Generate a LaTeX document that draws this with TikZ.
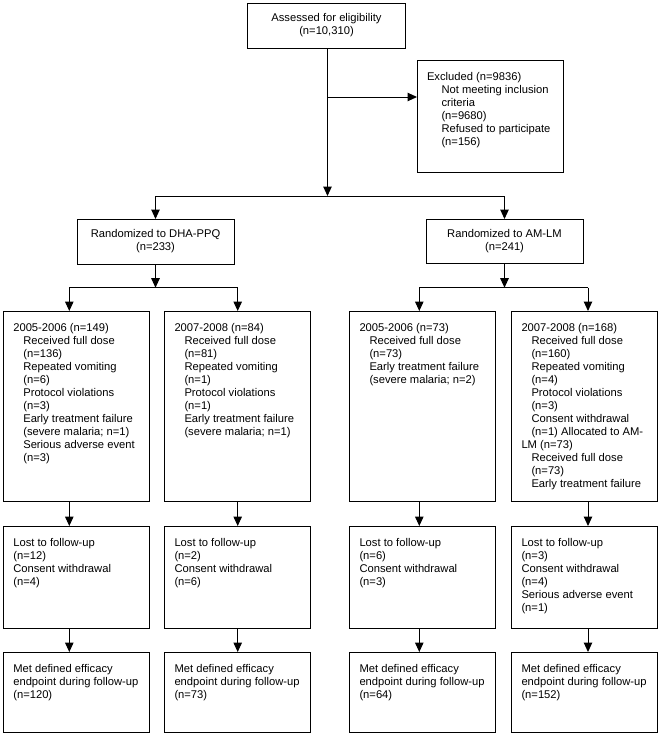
\documentclass[tikz,border=0pt]{standalone}
\usepackage{fontspec}
\setmainfont{Liberation Sans}
\usetikzlibrary{arrows.meta,calc}
\newcommand\ind{\hspace*{10pt}}
\newcommand\indx{\hspace*{14.5pt}}
\newcommand\btext[1]{\parbox[t]{200pt}{\raggedright #1}}
\begin{document}
\begin{tikzpicture}[x=1pt,y=-1pt,
  every node/.style={font=\fontsize{11.2}{13}\selectfont},
  box/.style={draw,line width=1pt,inner sep=0pt,outer sep=0pt,align=center},
  colbox/.style={box,minimum width=146pt},
  txt/.style={inner sep=0pt,outer sep=0pt,anchor=base west},
  arr/.style={line width=1pt,-{Triangle[length=9.5pt,width=8.5pt]}},
  ln/.style={line width=1pt}]
\useasboundingbox (0,0) rectangle (661,736);
% top level
\node[box,minimum width=158pt,minimum height=45pt] (top) at (326.5,25.5) {Assessed for eligibility\\(n=10,310)};
\node[box,minimum width=146pt,minimum height=112pt] (excl) at (490,116) {};
\node[txt] (texcl) at ([xshift=10pt,yshift=-20.5pt]excl.north west) {\btext{Excluded (n=9836)\\\indx Not meeting inclusion\\\indx criteria\\\indx (n=9680)\\\indx Refused to participate\\\indx (n=156)}};
\node[box,minimum width=157pt,minimum height=45pt] (dha) at (155.5,241.5) {Randomized to DHA-PPQ\\(n=233)};
\node[box,minimum width=157pt,minimum height=44pt] (aml) at (504.5,241) {Randomized to AM-LM\\(n=241)};
% column boxes
\node[colbox,minimum height=190pt] (A) at (76.3,406) {};
\node[colbox,minimum height=190pt] (B) at (237.5,406) {};
\node[colbox,minimum height=190pt] (C) at (422.5,406) {};
\node[colbox,minimum height=190pt] (D) at (584.5,406) {};
\node[txt] (tA) at ([xshift=10pt,yshift=-20.5pt]A.north west) {\btext{2005-2006 (n=149)\\\ind Received full dose\\\ind (n=136)\\\ind Repeated vomiting\\\ind (n=6)\\\ind Protocol violations\\\ind (n=3)\\\ind Early treatment failure\\\ind (severe malaria; n=1)\\\ind Serious adverse event\\\ind (n=3)}};
\node[txt] (tB) at ([xshift=10pt,yshift=-20.5pt]B.north west) {\btext{2007-2008 (n=84)\\\ind Received full dose\\\ind (n=81)\\\ind Repeated vomiting\\\ind (n=1)\\\ind Protocol violations\\\ind (n=1)\\\ind Early treatment failure\\\ind (severe malaria; n=1)}};
\node[txt] (tC) at ([xshift=10pt,yshift=-20.5pt]C.north west) {\btext{2005-2006 (n=73)\\\ind Received full dose\\\ind (n=73)\\\ind Early treatment failure\\\ind (severe malaria; n=2)}};
\node[txt] (tD) at ([xshift=10pt,yshift=-20.5pt]D.north west) {\btext{2007-2008 (n=168)\\\ind Received full dose\\\ind (n=160)\\\ind Repeated vomiting\\\ind (n=4)\\\ind Protocol violations\\\ind (n=3)\\\ind Consent withdrawal\\\ind (n=1) Allocated to AM-\\LM (n=73)\\\ind Received full dose\\\ind (n=73)\\\ind Early treatment failure}};
% lost boxes
\node[colbox,minimum height=102pt] (lA) at (76.3,577) {};
\node[colbox,minimum height=102pt] (lB) at (237.5,577) {};
\node[colbox,minimum height=102pt] (lC) at (422.5,577) {};
\node[colbox,minimum height=102pt] (lD) at (584.5,577) {};
\node[txt] (tlA) at ([xshift=10pt,yshift=-20.5pt]lA.north west) {\btext{Lost to follow-up\\(n=12)\\Consent withdrawal\\(n=4)}};
\node[txt] (tlB) at ([xshift=10pt,yshift=-20.5pt]lB.north west) {\btext{Lost to follow-up\\(n=2)\\Consent withdrawal\\(n=6)}};
\node[txt] (tlC) at ([xshift=10pt,yshift=-20.5pt]lC.north west) {\btext{Lost to follow-up\\(n=6)\\Consent withdrawal\\(n=3)}};
\node[txt] (tlD) at ([xshift=10pt,yshift=-20.5pt]lD.north west) {\btext{Lost to follow-up\\(n=3)\\Consent withdrawal\\(n=4)\\Serious adverse event\\(n=1)}};
% met boxes
\node[colbox,minimum height=80pt] (mA) at (76.3,692) {};
\node[colbox,minimum height=80pt] (mB) at (237.5,692) {};
\node[colbox,minimum height=80pt] (mC) at (422.5,692) {};
\node[colbox,minimum height=80pt] (mD) at (584.5,692) {};
\node[txt] (tmA) at ([xshift=10pt,yshift=-20.5pt]mA.north west) {\btext{Met defined efficacy\\endpoint during follow-up\\(n=120)}};
\node[txt] (tmB) at ([xshift=10pt,yshift=-20.5pt]mB.north west) {\btext{Met defined efficacy\\endpoint during follow-up\\(n=73)}};
\node[txt] (tmC) at ([xshift=10pt,yshift=-20.5pt]mC.north west) {\btext{Met defined efficacy\\endpoint during follow-up\\(n=64)}};
\node[txt] (tmD) at ([xshift=10pt,yshift=-20.5pt]mD.north west) {\btext{Met defined efficacy\\endpoint during follow-up\\(n=152)}};
% connector coordinates
\coordinate (jEx) at (327.5,97);
\coordinate (j1) at (327.5,196);
\coordinate (j2) at (155.5,287.7);
\coordinate (j3) at (504.5,287.7);
\coordinate (xA) at (69.3,0);
\coordinate (xB) at (237.7,0);
\coordinate (xC) at (419.3,0);
\coordinate (xD) at (588,0);
% connectors
\draw[ln] (top.south -| j1) -- (jEx);
\draw[arr] (jEx) -- (j1);
\draw[arr] (jEx) -- (jEx -| excl.west);
\draw[ln] (j1 -| dha) -- (j1 -| aml);
\draw[arr] (j1 -| dha) -- (dha.north);
\draw[arr] (j1 -| aml) -- (aml.north);
\draw[arr] (dha.south) -- (j2);
\draw[arr] (aml.south) -- (j3);
\draw[ln] (j2 -| xA) -- (j2 -| xB);
\draw[ln] (j3 -| xC) -- (j3 -| xD);
\draw[arr] (j2 -| xA) -- (A.north -| xA);
\draw[arr] (j2 -| xB) -- (B.north -| xB);
\draw[arr] (j3 -| xC) -- (C.north -| xC);
\draw[arr] (j3 -| xD) -- (D.north -| xD);
\draw[arr] (A.south -| xA) -- (lA.north -| xA);
\draw[arr] (B.south -| xB) -- (lB.north -| xB);
\draw[arr] (C.south -| xC) -- (lC.north -| xC);
\draw[arr] (D.south -| xD) -- (lD.north -| xD);
\draw[arr] (lA.south -| xA) -- (mA.north -| xA);
\draw[arr] (lB.south -| xB) -- (mB.north -| xB);
\draw[arr] (lC.south -| xC) -- (mC.north -| xC);
\draw[arr] (lD.south -| xD) -- (mD.north -| xD);
\end{tikzpicture}
\end{document}
